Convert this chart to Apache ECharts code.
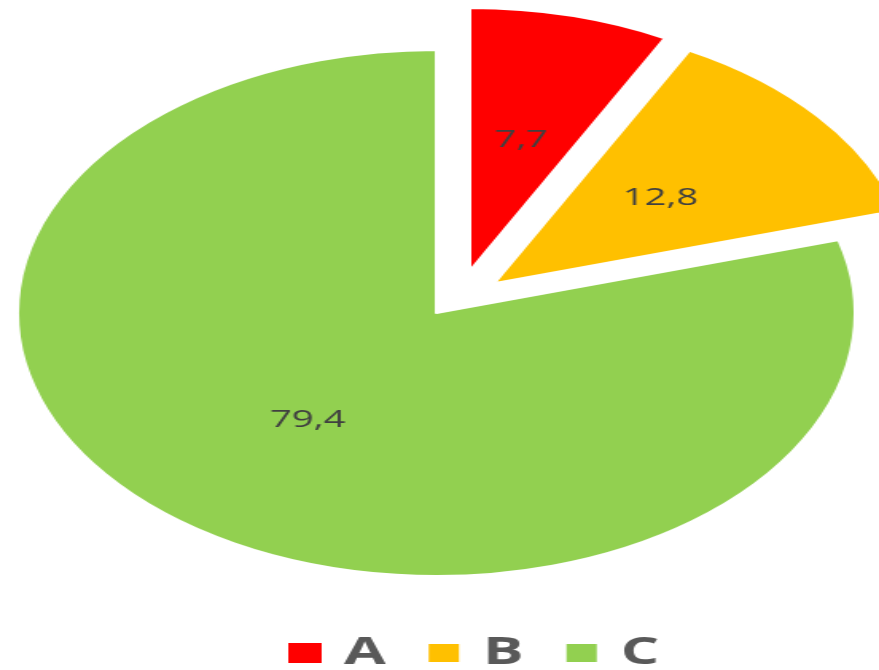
<!DOCTYPE html>
<html lang="en">
<head>
    <meta charset="UTF-8">
    <title>Pie</title>
    <style>
        html, body {
            margin: 0;
            padding: 0;
            overflow: hidden;
            background: #fff;
        }
        /* the reference pie is stretched sideways, so draw a circle and stretch the whole chart */
        #main {
            width: 552px;
            height: 670px;
            transform: scaleX(1.5924);
            transform-origin: 0 0;
        }
    </style>
</head>
<body>
    <div id="main"></div>
    <script src="https://cdn.jsdelivr.net/npm/echarts@6/dist/echarts.min.js"></script>
    <script>
        const categories = ['A', 'B', 'C'];
        const values = [7.7, 12.8, 79.4];
        const colors = ['#FF0000', '#FFC000', '#92D050'];

        const myChart = echarts.init(document.getElementById('main'));

        // build the full slice list, only the slices in `shown` are painted
        function sliceData(shown, selected) {
            return categories.map(function (name, i) {
                const on = shown.indexOf(i) >= 0;
                return {
                    name: name,
                    value: values[i],
                    selected: selected.indexOf(i) >= 0,
                    itemStyle: on ? { color: colors[i] } : { color: 'rgba(0,0,0,0)', borderWidth: 0 },
                    label: { show: on }
                };
            });
        }

        const baseSeries = {
            type: 'pie',
            radius: 263,
            startAngle: 90,
            clockwise: true,
            selectedMode: 'multiple',
            selectedOffset: 47,
            emphasis: { scale: false },
            itemStyle: {
                borderColor: '#fff',
                borderWidth: 2
            },
            label: {
                position: 'inside',
                fontFamily: 'Open Sans',
                fontSize: 24,
                color: '#404040',
                formatter: function (p) {
                    return String(p.value).replace('.', ',');
                }
            },
            labelLine: { show: false }
        };

        myChart.setOption({
            animation: false,
            legend: {
                data: categories.map(function (name, i) {
                    return { name: name, itemStyle: { color: colors[i] } };
                }),
                left: 181,
                top: 633,
                padding: 0,
                icon: 'rect',
                itemWidth: 21,
                itemHeight: 20,
                itemGap: 25,
                textStyle: {
                    fontFamily: 'Open Sans',
                    fontSize: 38,
                    fontWeight: 'bold',
                    color: '#595959',
                    lineHeight: 40,
                    padding: [0, 0, 0, 9]
                }
            },
            series: [
                // C and B (B pulled out)
                Object.assign({}, baseSeries, {
                    center: [274, 313],
                    data: sliceData([1, 2], [1])
                }),
                // A, pulled out a bit further to the right like the source
                Object.assign({}, baseSeries, {
                    center: [295, 271],
                    data: sliceData([0], [])
                })
            ]
        });
    </script>
</body>
</html>
